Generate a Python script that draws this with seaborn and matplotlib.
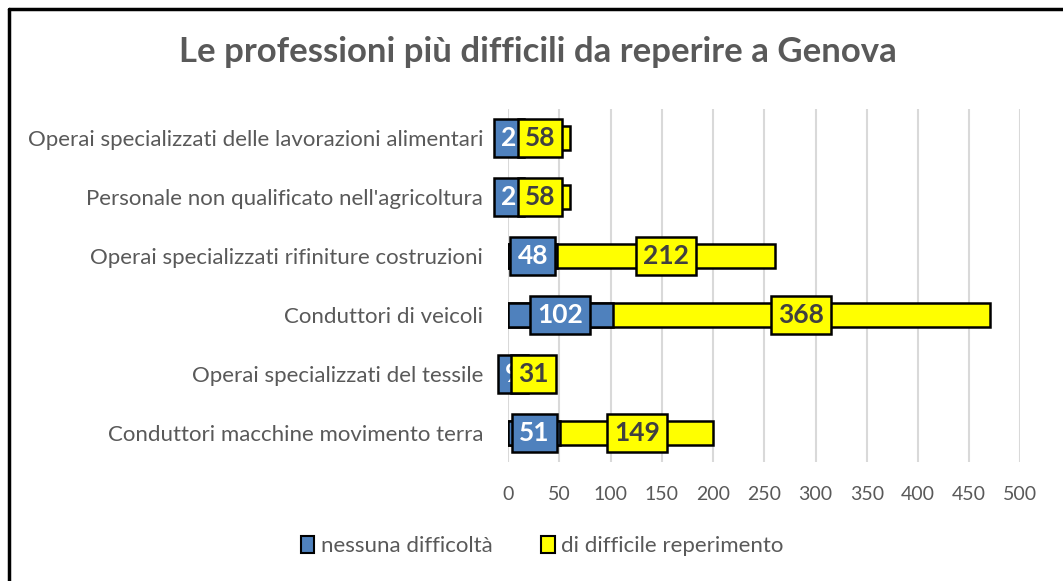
import pandas as pd
import matplotlib.pyplot as plt
import seaborn as sns
from matplotlib.lines import Line2D
from matplotlib.patches import Patch

professioni = ["Operai specializzati delle lavorazioni alimentari",
               "Personale non qualificato nell'agricoltura",
               "Operai specializzati rifiniture costruzioni",
               "Conduttori di veicoli",
               "Operai specializzati del tessile",
               "Conduttori macchine movimento terra"]
nessuna = [2, 2, 48, 102, 9, 51]
difficile = [58, 58, 212, 368, 31, 149]
x_ticks = [0, 50, 100, 150, 200, 250, 300, 350, 400, 450, 500]

df = pd.DataFrame({"Professione": professioni, "nessuna": nessuna, "difficile": difficile})
df["totale"] = df["nessuna"] + df["difficile"]

sns.set_style("white")
plt.rcParams["font.family"] = ["Lato", "DejaVu Sans"]

blu = "#4f81bd"
giallo = "#ffff00"
grigio = "#595959"

fig = plt.figure(figsize=(10.63, 5.81), dpi=100)
ax = fig.add_axes([0.478, 0.204, 0.482, 0.609])

# yellow goes to the total, blue drawn over it
sns.barplot(data=df, y="Professione", x="totale", color=giallo, width=0.4,
            edgecolor="black", linewidth=1.8, saturation=1, ax=ax)
sns.barplot(data=df, y="Professione", x="nessuna", color=blu, width=0.4,
            edgecolor="black", linewidth=1.8, saturation=1, ax=ax)

cont_giallo, cont_blu = ax.containers[0], ax.containers[1]
ax.bar_label(cont_blu, labels=[str(v) for v in nessuna], label_type="center",
             fontsize=19, fontweight="bold", color="white", zorder=5,
             bbox=dict(boxstyle="square,pad=0.27", fc=blu, ec="black", lw=1.8))
# yellow labels sit in the middle of the yellow segment, above the blue ones
for rect, n, d in zip(cont_giallo, nessuna, difficile):
    cy = rect.get_y() + rect.get_height() / 2
    ax.text(n + d / 2, cy, str(d), ha="center", va="center", fontsize=19,
            fontweight="bold", color="#404040", zorder=6,
            bbox=dict(boxstyle="square,pad=0.27", fc=giallo, ec="black", lw=1.8))

ax.set_xlim(0, 500)
ax.set_ylim(5.5, -0.5)
ax.set_xticks(x_ticks)
ax.set_xlabel("")
ax.set_ylabel("")
ax.grid(axis="x", color="#d9d9d9", linewidth=1.5)
ax.set_axisbelow(True)
for s in ax.spines.values():
    s.set_visible(False)
ax.tick_params(axis="both", length=0, colors=grigio)
ax.tick_params(axis="x", pad=17, labelsize=14)
ax.tick_params(axis="y", pad=18, labelsize=16)

fig.text(0.506, 0.91, "Le professioni più difficili da reperire a Genova",
         ha="center", va="center", fontsize=25, fontweight="bold", color=grigio)

handles = [Patch(fc=blu, ec="black", lw=1.5), Patch(fc=giallo, ec="black", lw=1.5)]
fig.legend(handles, ["nessuna difficoltà", "di difficile reperimento"], loc="center",
           bbox_to_anchor=(0.51, 0.06), ncol=2, frameon=False, fontsize=16,
           labelcolor=grigio, handlelength=0.6, handleheight=0.8, handletextpad=0.3,
           columnspacing=2.2)

# border only on top and left like the original
fig.add_artist(Line2D([0.0085, 1], [0.985, 0.985], transform=fig.transFigure, color="black", lw=2.5))
fig.add_artist(Line2D([0.0085, 0.0085], [0, 0.985], transform=fig.transFigure, color="black", lw=2.5))

fig.savefig("out.png", dpi=100)
